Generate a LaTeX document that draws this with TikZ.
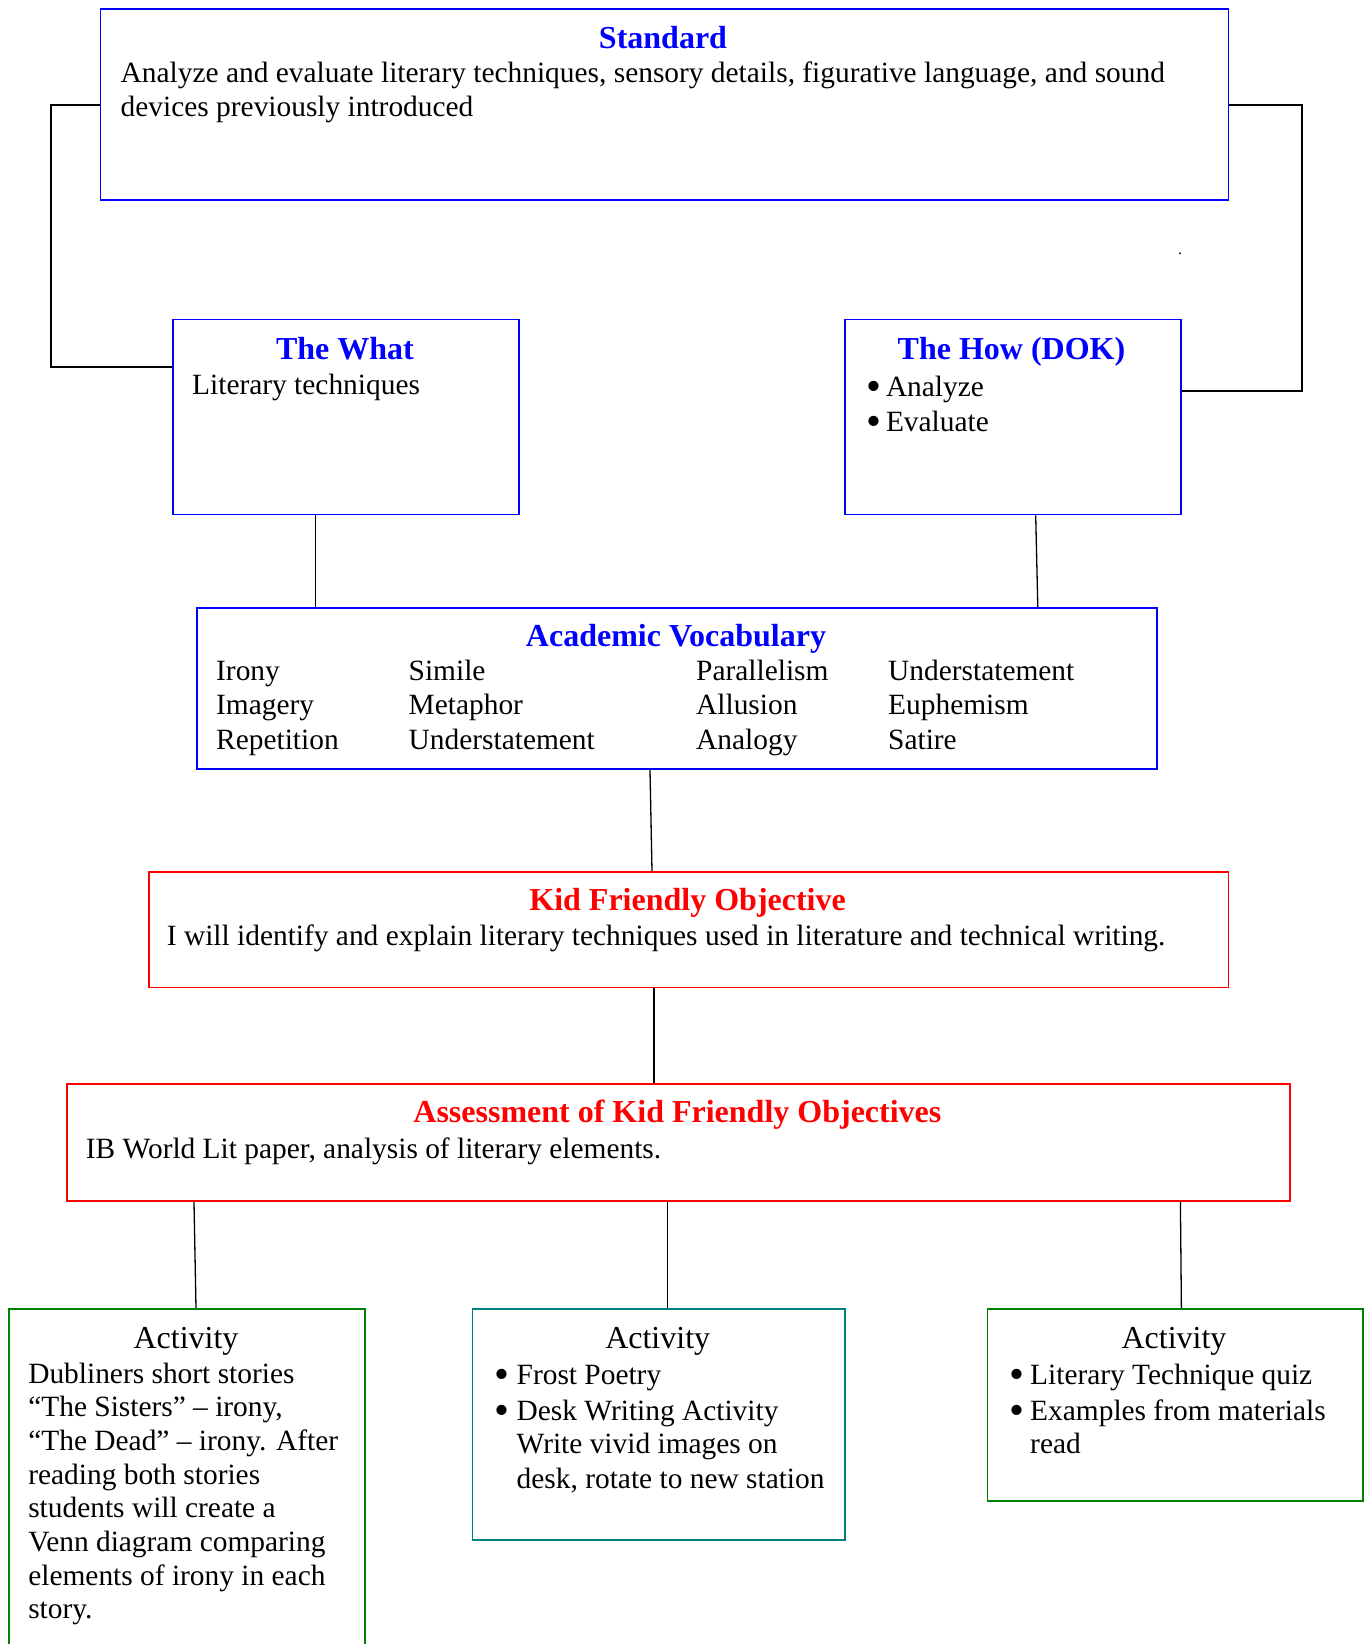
\documentclass[tikz,border=0pt]{standalone}
\usepackage{graphicx}
\usepackage{fontspec}
\setmainfont{Liberation Serif}
\definecolor{kblue}{RGB}{0,0,255}
\definecolor{kred}{RGB}{255,0,0}
\definecolor{kgreen}{RGB}{0,128,0}
\definecolor{kteal}{RGB}{0,128,128}
\tikzset{
  box/.style={draw, line width=1.7pt, inner sep=0pt, anchor=north west},
  bluebox/.style={box, draw=kblue},
  redbox/.style={box, draw=kred},
  greenbox/.style={box, draw=kgreen},
  tealbox/.style={box, draw=kteal},
  txt/.style={anchor=base west, inner sep=0pt, font=\fontsize{29.4}{34}\selectfont},
  ttl/.style={anchor=base, inner sep=0pt, font=\fontsize{32}{38}\selectfont\bfseries},
  acttl/.style={anchor=base, inner sep=0pt, font=\fontsize{32}{38}\selectfont},
  conn/.style={draw=black, line width=1.3pt},
  bconn/.style={draw=black, line width=2pt},
}
\newcommand{\bul}[1]{\makebox[#1][l]{\raisebox{-0.14em}{\scalebox{1.45}{•}}}}
\begin{document}
\begin{tikzpicture}[x=1pt,y=-1pt]
\useasboundingbox (0,0) rectangle (1368,1644);
\clip (0,0) rectangle (1368,1644);
\fill[white] (0,0) rectangle (1368,1644);

% boxes
\node[bluebox, minimum width=1128pt, minimum height=190.8pt] (std) at (99.6,8.4) {};
\node[bluebox, minimum width=346pt, minimum height=195pt] (what) at (172,318.7) {};
\node[bluebox, minimum width=336.5pt, minimum height=195pt] (how) at (843.9,318.7) {};
\node[bluebox, minimum width=960.3pt, minimum height=161.4pt] (vocab) at (196,607) {};
\node[redbox, minimum width=1079.8pt, minimum height=115.5pt] (kfo) at (147.8,871) {};
\node[redbox, minimum width=1223.4pt, minimum height=117.3pt] (assess) at (66,1083) {};
\node[greenbox, minimum width=355.4pt, minimum height=400pt] (a1) at (8.4,1308) {};
\node[tealbox, minimum width=372.2pt, minimum height=231pt] (a2) at (471.7,1308) {};
\node[greenbox, minimum width=375.3pt, minimum height=192pt] (a3) at (986.5,1308) {};

% connectors
\draw[bconn] (std.west) -- ++(-48.2,0) |- ([yshift=-48.3pt]what.north west);
\draw[bconn] (std.east) -- ++(72.4,0) |- ([yshift=-72.3pt]how.north east);
\draw[conn] ([xshift=143.5pt]what.south west) -- ([xshift=119.5pt]vocab.north west);
\draw[conn] ([xshift=191.8pt]how.south west) -- ([xshift=841.8pt]vocab.north west);
\draw[conn] ([xshift=454pt]vocab.south west) -- ([xshift=504.2pt]kfo.north west);
\draw[conn] ([xshift=506.2pt]kfo.south west) -- ([xshift=588pt]assess.north west);
\draw[conn] ([xshift=128pt]assess.south west) -- ([xshift=187.6pt]a1.north west);
\draw[conn] ([xshift=601.8pt]assess.south west) -- ([xshift=196.1pt]a2.north west);
\draw[conn] ([xshift=1114.4pt]assess.south west) -- ([xshift=194.9pt]a3.north west);

% Standard
\node[ttl, text=kblue] (stdT) at (663,48) {Standard};
\node[txt] (stdL1) at (120.5,82) {Analyze and evaluate literary techniques, sensory details, figurative language, and sound};
\node[txt] (stdL2) at (120.5,116.5) {devices previously introduced};
\node[anchor=base, inner sep=0pt, font=\fontsize{16}{18}\selectfont] (dot) at (1180,254) {.};

% What
\node[ttl, text=kblue] (whatT) at (345,359) {The What};
\node[txt] (whatL) at (192,394) {Literary techniques};

% How
\node[ttl, text=kblue] (howT) at (1011.5,359) {The How (DOK)};
\node[txt] (howL1) at (866,396) {\bul{19.8pt}Analyze};
\node[txt] (howL2) at (866,431.5) {\bul{19.8pt}Evaluate};

% Vocabulary
\node[ttl, text=kblue] (vocT) at (676,646.5) {Academic Vocabulary};
\node[txt] (v11) at (216,680.5) {Irony};
\node[txt] (v12) at (408.5,680.5) {Simile};
\node[txt] (v13) at (696,680.5) {Parallelism};
\node[txt] (v14) at (888,680.5) {Understatement};
\node[txt] (v21) at (216,714.8) {Imagery};
\node[txt] (v22) at (408.5,714.8) {Metaphor};
\node[txt] (v23) at (696,714.8) {Allusion};
\node[txt] (v24) at (888,714.8) {Euphemism};
\node[txt] (v31) at (216,749) {Repetition};
\node[txt] (v32) at (408.5,749) {Understatement};
\node[txt] (v33) at (696,749) {Analogy};
\node[txt] (v34) at (888,749) {Satire};

% KFO
\node[ttl, text=kred] (kfoT) at (687.6,910.5) {Kid Friendly Objective};
\node[txt] (kfoL) at (166.7,945) {I will identify and explain literary techniques used in literature and technical writing.};

% Assessment
\node[ttl, text=kred] (asT) at (677.4,1122.5) {Assessment of Kid Friendly Objectives};
\node[txt] (asL) at (85.7,1158.5) {IB World Lit paper, analysis of literary elements.};

% Activity 1
\node[acttl] (a1T) at (186,1348) {Activity};
\node[txt] (a1L1) at (28.1,1383) {Dubliners short stories};
\node[txt] (a1L2) at (28.1,1416.7) {“The Sisters” – irony,};
\node[txt] (a1L3) at (28.1,1450.4) {“The Dead” – irony. After};
\node[txt] (a1L4) at (28.1,1484.1) {reading both stories};
\node[txt] (a1L5) at (28.1,1517.8) {students will create a};
\node[txt] (a1L6) at (28.1,1551.5) {Venn diagram comparing};
\node[txt] (a1L7) at (28.1,1585.2) {elements of irony in each};
\node[txt] (a1L8) at (28.1,1618.9) {story.};

% Activity 2
\node[acttl] (a2T) at (657.7,1348) {Activity};
\node[txt] (a2L1) at (494.7,1384) {\bul{21.8pt}Frost Poetry};
\node[txt] (a2L2) at (494.7,1420.5) {\bul{21.8pt}Desk Writing Activity};
\node[txt] (a2L3) at (516.5,1453.5) {Write vivid images on};
\node[txt] (a2L4) at (516.5,1488) {desk, rotate to new station};

% Activity 3
\node[acttl] (a3T) at (1174,1348) {Activity};
\node[txt] (a3L1) at (1009,1384) {\bul{21pt}Literary Technique quiz};
\node[txt] (a3L2) at (1009,1420.5) {\bul{21pt}Examples from materials};
\node[txt] (a3L3) at (1030,1453.5) {read};
\end{tikzpicture}
\end{document}
